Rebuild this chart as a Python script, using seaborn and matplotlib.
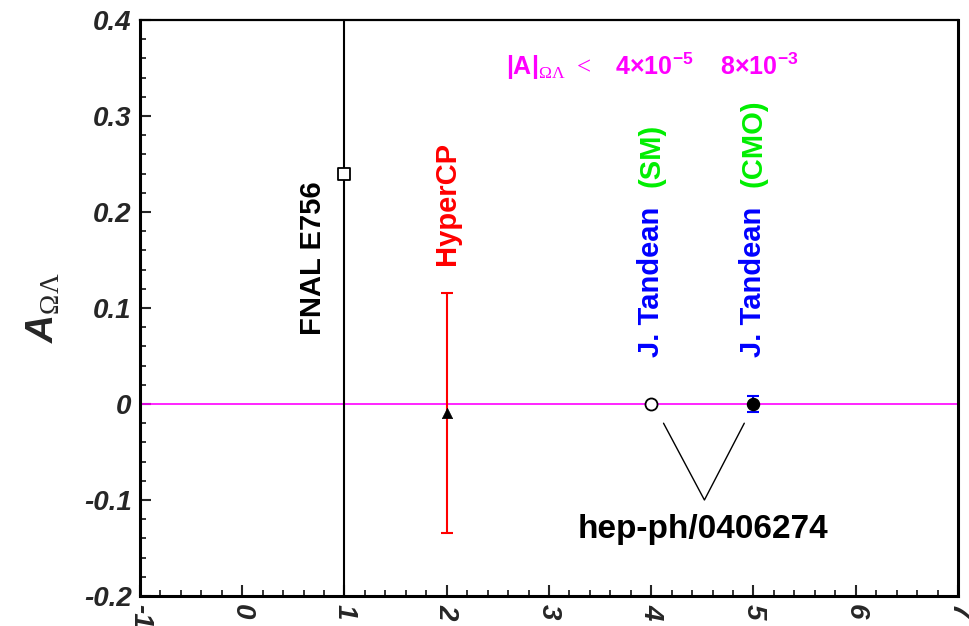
import matplotlib
matplotlib.use("Agg")
import matplotlib.pyplot as plt
from matplotlib.ticker import FixedLocator, MultipleLocator
import seaborn as sns

# measurements / predictions
exp_names = ["FNAL E756", "HyperCP", "J. Tandean (SM)", "J. Tandean (CMO)"]
exp_x = [1, 2, 4, 5]
exp_y = [0.24, -0.009, 0.0, 0.0]
exp_err = [0.5, 0.125, 0.0, 0.008]

x_ticks = [-1, 0, 1, 2, 3, 4, 5, 6, 7]
x_labels = ["-1", "0", "1", "2", "3", "4", "5", "6", "7"]
y_ticks = [-0.2, -0.1, 0.0, 0.1, 0.2, 0.3, 0.4]
y_labels = ["-0.2", "-0.1", "0", "0.1", "0.2", "0.3", "0.4"]

# V connecting the two Tandean points to the reference label
v_x = [4.12, 4.52, 4.91]
v_y = [-0.02, -0.1, -0.02]

sns.set_style("ticks")
plt.rcParams["font.family"] = ["Liberation Sans", "DejaVu Sans"]
plt.rcParams["mathtext.fontset"] = "custom"
plt.rcParams["mathtext.rm"] = "Liberation Serif"
plt.rcParams["mathtext.bf"] = "Liberation Sans:bold"
plt.rcParams["mathtext.it"] = "Liberation Sans:italic:bold"

fig = plt.figure(figsize=(9.7, 6.26), dpi=100)
ax = fig.add_axes([140 / 970, 30 / 626, 818 / 970, 576 / 626])

ax.axhline(0, color="#ff00ff", lw=1.2, zorder=1)

# error bars
ax.errorbar(exp_x[0], exp_y[0], yerr=exp_err[0], fmt="none", ecolor="black", elinewidth=1.5, capsize=0, zorder=2)
ax.errorbar(exp_x[1], exp_y[1], yerr=exp_err[1], fmt="none", ecolor="red", elinewidth=1.5, capsize=4.5, capthick=1.5, zorder=2)
ax.errorbar(exp_x[3], exp_y[3], yerr=exp_err[3], fmt="none", ecolor="blue", elinewidth=1.5, capsize=4.5, capthick=1.5, zorder=2)

# markers
sns.scatterplot(x=[exp_x[0]], y=[exp_y[0]], marker="s", s=70, color="white", edgecolor="black", linewidth=1.3, ax=ax, zorder=3)
sns.scatterplot(x=[exp_x[1]], y=[exp_y[1]], marker="^", s=55, color="black", edgecolor="black", linewidth=0.5, ax=ax, zorder=3)
sns.scatterplot(x=[exp_x[2]], y=[exp_y[2]], marker="o", s=75, color="white", edgecolor="black", linewidth=1.3, ax=ax, zorder=3)
sns.scatterplot(x=[exp_x[3]], y=[exp_y[3]], marker="o", s=75, color="black", edgecolor="black", linewidth=1.0, ax=ax, zorder=3)

ax.plot(v_x, v_y, color="black", lw=1.0)

lab_kw = dict(rotation=90, ha="center", va="bottom", fontsize=21, fontweight="bold")
ax.text(0.69, 0.072, "FNAL E756", color="black", **lab_kw)
ax.text(2.0, 0.145, "HyperCP", color="red", **lab_kw)
ax.text(4.0, 0.049, "J. Tandean", color="blue", **lab_kw)
ax.text(4.0, 0.226, "(SM)", color="#00ee00", **lab_kw)
ax.text(5.0, 0.049, "J. Tandean", color="blue", **lab_kw)
ax.text(5.0, 0.226, "(CMO)", color="#00ee00", **lab_kw)

ax.text(2.58, 0.343,
        r"$\mathbf{|A|}_{\Omega\Lambda}$ $<$   $\mathbf{4{\times}10^{-5}}$    $\mathbf{8{\times}10^{-3}}$",
        color="#ff00ff", fontsize=18, fontweight="bold", ha="left", va="baseline")
ax.text(4.51, -0.131, "hep-ph/0406274", color="black", fontsize=24, fontweight="bold", ha="center", va="center")

ax.set_xlim(-1, 7)
ax.set_ylim(-0.2, 0.4)
ax.xaxis.set_major_locator(FixedLocator(x_ticks))
ax.xaxis.set_minor_locator(MultipleLocator(0.2))
ax.yaxis.set_major_locator(FixedLocator(y_ticks))
ax.yaxis.set_minor_locator(MultipleLocator(0.02))
ax.set_xticklabels(x_labels, rotation=-90, fontsize=20, fontweight="bold", fontstyle="italic", va="top", ha="center")
ax.set_yticklabels(y_labels, fontsize=20, fontweight="bold", fontstyle="italic")
ax.tick_params(which="major", direction="in", length=8, width=1.5, pad=6)
ax.tick_params(which="minor", direction="in", length=4.5, width=1.3)
for side in ["left", "bottom", "right"]:
    ax.spines[side].set_linewidth(2.2)
ax.spines["top"].set_linewidth(1.6)
for sp in ax.spines.values():
    sp.set_color("black")

ax.set_ylabel(r"$\mathit{A}_{\Omega\Lambda}$", fontsize=28, labelpad=16)

fig.savefig("out.png", dpi=100)
